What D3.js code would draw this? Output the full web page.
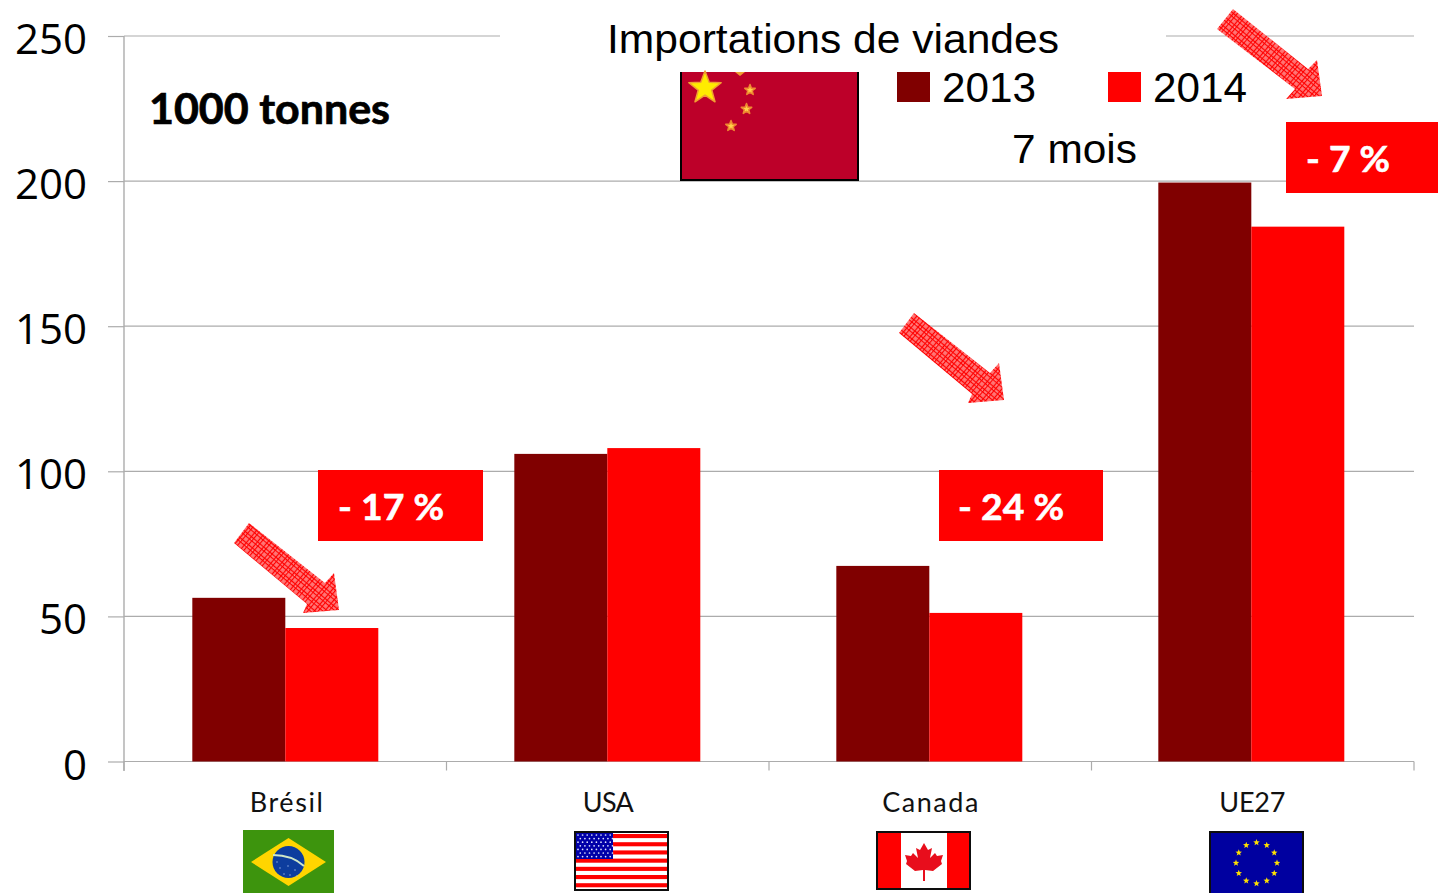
<!DOCTYPE html>
<html><head><meta charset="utf-8">
<script src="https://cdn.jsdelivr.net/npm/d3@7"></script>
<style>html,body{margin:0;padding:0;background:#fff;overflow:hidden}svg{display:block}</style>
</head><body><svg id="c" width="1438" height="893"></svg>
<script>
const categories = ["Brésil","USA","Canada","UE27"];
const categoryLabelWidths = [73,51,96,66];
const seriesNames = ["2013","2014"];
const values2013 = [56.4,106,67.4,199.5];
const values2014 = [46,108,51.2,184.3];
const yTicks = [0,50,100,150,200,250];
const seriesColors = ["#800000","#ff0000"];
const callouts = [
  {text:"- 17 %",cat:"Brésil"},
  {text:"- 24 %",cat:"Canada"},
  {text:"- 7 %",cat:"UE27"}
];

const svg = d3.select("#c");
const y = d3.scaleLinear().domain([0,250]).range([761.5,36]);
const x0 = d3.scaleBand().domain(categories).range([124,1414]).paddingInner(0.4224).paddingOuter(0.2143).align(0.495);
const x1 = d3.scaleBand().domain(seriesNames).range([0,x0.bandwidth()]);
const AX="#acacac";

const defs = svg.append("defs");
const pat = defs.append("pattern").attr("id","hatch").attr("width",8).attr("height",8)
  .attr("patternUnits","userSpaceOnUse").attr("patternTransform","rotate(40)");
pat.append("rect").attr("width",8).attr("height",8).attr("fill","#ff6a6a");
pat.append("path").attr("d","M0 1.5H8M0 4.5H8M1.5 0V8M4.5 0V8").attr("stroke","#ff0000").attr("stroke-width",1);
pat.append("path").attr("d","M3 3h.8v.8h-.8zM6.5 6.5h.8v.8h-.8zM6.5 3h.8v.8h-.8zM3 6.5h.8v.8h-.8z").attr("fill","#ffc4c4");
defs.append("filter").attr("id","soft").attr("x","-5%").attr("y","-5%").attr("width","110%").attr("height","110%")
  .append("feGaussianBlur").attr("stdDeviation",0.45);
defs.append("filter").attr("id","softer").attr("x","-30%").attr("y","-30%").attr("width","160%").attr("height","160%")
  .append("feGaussianBlur").attr("stdDeviation",0.7);

// grid
const grid = svg.append("g");
grid.selectAll("line").data(yTicks.filter(d=>d>0)).join("line")
  .attr("x1",124).attr("x2",1414).attr("y1",d=>y(d)).attr("y2",d=>y(d))
  .attr("stroke",AX).attr("stroke-width",1.2);
svg.append("rect").attr("x",500).attr("y",20).attr("width",666).attr("height",40).attr("fill","#fff");

// axes
const yAxis = d3.axisLeft(y).tickValues(yTicks).tickSize(16);
const gy = svg.append("g").attr("transform","translate(124,0)").call(yAxis);
gy.selectAll("text").attr("font-family","'Open Sans'").attr("font-size",42).attr("fill","#000").attr("dy",0).attr("y",17.5).attr("x",-37);
gy.selectAll("line").attr("stroke",AX).attr("stroke-width",1.2);
gy.select(".domain").attr("stroke",AX).attr("stroke-width",1.4).attr("d","M0,36V771");

const xAxis = d3.axisBottom(x0).tickSize(0).tickPadding(0);
const gx = svg.append("g").attr("transform","translate(0,761.5)").call(xAxis);
gx.select(".domain").attr("stroke",AX).attr("stroke-width",1.2).attr("d","M124,0H1414");
gx.selectAll("text").attr("font-family","Lato, 'Open Sans'").attr("font-size",27).attr("fill","#111").attr("x",1).attr("y",50).attr("dy",0)
  .attr("textLength",(c,i)=>categoryLabelWidths[i]).attr("lengthAdjust","spacing");
gx.selectAll(".edge").data(d3.range(5).map(i=>124+i*(1414-124)/4)).join("line").attr("class","edge")
  .attr("x1",d=>d).attr("x2",d=>d).attr("y1",0).attr("y2",9).attr("stroke",AX).attr("stroke-width",1.2);

// bars
const groups = svg.append("g").selectAll("g").data(categories).join("g")
  .attr("transform",c=>`translate(${x0(c)},0)`);
groups.selectAll("rect").data((c,i)=>[values2013[i],values2014[i]].map((v,k)=>({v,k})))
  .join("rect")
  .attr("x",d=>x1(seriesNames[d.k])).attr("width",x1.bandwidth())
  .attr("y",d=>y(d.v)).attr("height",d=>y(0)-y(d.v))
  .attr("fill",d=>seriesColors[d.k]);

const txt=(s,xx,yy,size,fam,w,fill,len)=>{
  const t=svg.append("text").text(s).attr("x",xx).attr("y",yy).attr("font-size",size)
   .attr("font-family",fam).attr("font-weight",w||400).attr("fill",fill||"#000");
  if(len) t.attr("textLength",len).attr("lengthAdjust","spacingAndGlyphs");
  return t;
};
txt("Importations de viandes",607,53,41,"'Liberation Sans'",400,"#000",452);
txt("7 mois",1012,163,41,"'Liberation Sans'",400,"#000",125);
txt("1000 tonnes",149,124,42,"Lato, 'Open Sans'",700,"#000",241).attr("stroke","#000").attr("stroke-width",0.7);

seriesNames.forEach((n,i)=>{
  const lx=[897,1108][i];
  svg.append("rect").attr("x",lx).attr("y",72).attr("width",33).attr("height",30).attr("fill",seriesColors[i]);
  txt(n,lx+45,101.5,42,"'Liberation Sans'",400,"#000",94);
});

const boxGeom={"Brésil":[318,470,165,71,338,520],"Canada":[939,470,164,71,958,520],"UE27":[1286,122,152,71,1306,172]};
callouts.forEach(c=>{
  const [bx,by,bw,bh,tx,ty]=boxGeom[c.cat];
  svg.append("rect").attr("x",bx).attr("y",by).attr("width",bw).attr("height",bh).attr("fill","#ff0000");
  txt(c.text,tx,ty,37,"Lato, 'Open Sans'",700,"#fff",c.text.length>5?106:84).attr("stroke","#fff").attr("stroke-width",0.6);
});

const arrowShape=[[249,523],[325,583],[334,573],[339,610],[303,613],[307,604],[234,543]];
const line=d3.line();
[[0,0],[665,-210]].forEach(([dx,dy])=>{
  svg.append("path").attr("d",line(arrowShape.map(p=>[p[0]+dx,p[1]+dy]))+"Z").attr("fill","url(#hatch)");
});
svg.append("path").attr("d",line([[1233,9],[1308,69],[1317,60],[1322,96],[1286,99],[1295,89],[1217,29]])+"Z").attr("fill","url(#hatch)");

const star=(cx,cy,r,fill,g,stroke)=>{
  const pts=d3.range(10).map(i=>{const a=-Math.PI/2+i*Math.PI/5,R=i%2?r*0.42:r;return [cx+R*Math.cos(a),cy+R*Math.sin(a)];});
  const p=(g||svg).append("path").attr("d",line(pts)+"Z").attr("fill",fill);
  if(stroke) p.attr("stroke",stroke).attr("stroke-width",1.5).attr("stroke-linejoin","round");
};

// China flag
const cn=svg.append("g");
cn.append("rect").attr("x",681).attr("y",72).attr("width",177).attr("height",108).attr("fill","#bd0029");
cn.append("path").attr("d","M681,72V180H858V72").attr("fill","none").attr("stroke","#000").attr("stroke-width",2);
const cnStars=cn.append("g").attr("filter","url(#softer)");
star(705,88,17,"#ffec00",cnStars,"#f0a030");
star(750,90,5.5,"#ffd24a",cnStars,"#ee8a30");star(746.5,109,5.5,"#ffd24a",cnStars,"#ee8a30");star(731,126,5.5,"#ffd24a",cnStars,"#ee8a30");
cnStars.append("path").attr("d","M735,72L740,76L745,72Z").attr("fill","#f0a030");

// Brazil flag
const br=svg.append("g").attr("filter","url(#soft)");
br.append("rect").attr("x",243).attr("y",830).attr("width",91).attr("height",63).attr("fill","#3c9408");
br.append("path").attr("d",line([[251,862],[288.5,838],[326,862],[288.5,886]])+"Z").attr("fill","#ffd500");
br.append("circle").attr("cx",288.5).attr("cy",862).attr("r",16).attr("fill","#0a3d9e");
br.append("path").attr("d","M273,855Q292,855 304,866").attr("fill","none").attr("stroke","#cfe6c8").attr("stroke-width",2);
[[280,868],[288,866],[295,870],[284,874],[290,875],[277,862],[297,876]].forEach(p=>br.append("circle").attr("cx",p[0]).attr("cy",p[1]).attr("r",0.7).attr("fill","#9fb8e8"));

// USA flag
const us=svg.append("g").attr("filter","url(#soft)");
us.append("rect").attr("x",575).attr("y",832).attr("width",93).attr("height",58).attr("fill","#fff");
d3.range(7).forEach(i=>us.append("rect").attr("x",575).attr("y",834+i*8.2).attr("width",93).attr("height",4.1).attr("fill","#ff0000"));
us.append("rect").attr("x",575).attr("y",832).attr("width",38).attr("height",27).attr("fill","#0000a8");
d3.range(7).forEach(r=>d3.range(8).forEach(k=>us.append("circle").attr("cx",578+k*4.6+(r%2?2.3:0)).attr("cy",835+r*3.6).attr("r",0.85).attr("fill","#dfe4ff")));
us.append("rect").attr("x",575).attr("y",832).attr("width",93).attr("height",58).attr("fill","none").attr("stroke","#111").attr("stroke-width",2);

// Canada flag
const ca=svg.append("g").attr("filter","url(#soft)");
ca.append("rect").attr("x",877).attr("y",832).attr("width",93).attr("height",57).attr("fill","#fff");
ca.append("rect").attr("x",877).attr("y",832).attr("width",24).attr("height",57).attr("fill","#ff0000");
ca.append("rect").attr("x",947).attr("y",832).attr("width",23).attr("height",57).attr("fill","#ff0000");
ca.append("path").attr("d",line([[924,843],[928,850],[932,848],[930,858],[935,853],[937,856],[943,855],[941,861],[942,864],[933,871],[925,870],[925,881],[923,881],[923,870],[915,871],[906,864],[907,861],[905,855],[911,856],[913,853],[918,858],[916,848],[920,850]])+"Z").attr("fill","#e8111a");
ca.append("rect").attr("x",877).attr("y",832).attr("width",93).attr("height",57).attr("fill","none").attr("stroke","#111").attr("stroke-width",2);

// EU flag
const eu=svg.append("g").attr("filter","url(#soft)");
eu.append("rect").attr("x",1210).attr("y",832).attr("width",93).attr("height",64).attr("fill","#0000a0").attr("stroke","#111").attr("stroke-width",2);
d3.range(12).forEach(i=>{const a=i*Math.PI/6;star(1256.5+20.5*Math.sin(a),863-20.5*Math.cos(a),3.4,"#ffe000",eu);});
</script></body></html>
